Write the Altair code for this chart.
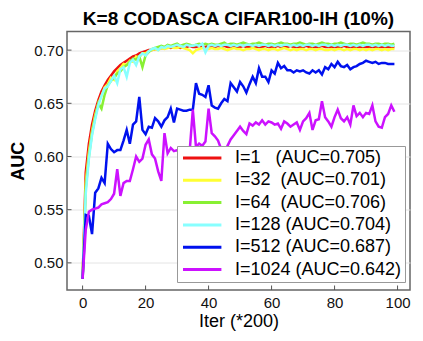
import altair as alt
import pandas as pd

iters = list(range(100))

labels = [
    "I=1\u00a0\u00a0\u00a0(AUC=0.705)",
    "I=32\u00a0\u00a0(AUC=0.701)",
    "I=64\u00a0\u00a0(AUC=0.706)",
    "I=128\u00a0(AUC=0.704)",
    "I=512\u00a0(AUC=0.687)",
    "I=1024\u00a0(AUC=0.642)",
]
colors = ["#ee1111", "#ffff33", "#88f033", "#88ffff", "#0011ee", "#cc11ff"]

auc_i1 = [0.485, 0.585, 0.612, 0.630, 0.643, 0.653, 0.661, 0.667, 0.672, 0.676,
          0.680, 0.683, 0.686, 0.688, 0.690, 0.692, 0.694, 0.695, 0.697, 0.698,
          0.699, 0.700, 0.700, 0.701, 0.701, 0.702, 0.702, 0.703, 0.702, 0.703,
          0.703, 0.702, 0.703, 0.703, 0.704, 0.703, 0.703, 0.704, 0.703, 0.703,
          0.704, 0.703, 0.703, 0.704, 0.703, 0.704, 0.703, 0.703, 0.704, 0.703,
          0.703, 0.704, 0.703, 0.703, 0.704, 0.703, 0.703, 0.703, 0.704, 0.703,
          0.703, 0.703, 0.704, 0.703, 0.703, 0.703, 0.704, 0.703, 0.703, 0.703,
          0.703, 0.704, 0.703, 0.703, 0.703, 0.703, 0.704, 0.703, 0.703, 0.703,
          0.703, 0.703, 0.703, 0.704, 0.703, 0.703, 0.703, 0.703, 0.703, 0.703,
          0.703, 0.703, 0.703, 0.703, 0.703, 0.703, 0.703, 0.703, 0.703, 0.703]

auc_i32 = [0.485, 0.575, 0.604, 0.624, 0.639, 0.650, 0.657, 0.665, 0.668, 0.674,
           0.672, 0.680, 0.683, 0.687, 0.686, 0.690, 0.689, 0.694, 0.693, 0.697,
           0.697, 0.699, 0.700, 0.701, 0.700, 0.702, 0.701, 0.702, 0.703, 0.702,
           0.702, 0.703, 0.702, 0.701, 0.700, 0.697, 0.700, 0.701, 0.702, 0.701,
           0.701, 0.702, 0.701, 0.701, 0.702, 0.701, 0.700, 0.701, 0.702, 0.701,
           0.701, 0.700, 0.701, 0.701, 0.702, 0.701, 0.700, 0.701, 0.701, 0.700,
           0.701, 0.701, 0.700, 0.701, 0.702, 0.701, 0.700, 0.701, 0.700, 0.701,
           0.701, 0.700, 0.701, 0.701, 0.700, 0.701, 0.701, 0.700, 0.700, 0.701,
           0.700, 0.701, 0.701, 0.700, 0.701, 0.700, 0.701, 0.701, 0.700, 0.701,
           0.700, 0.701, 0.700, 0.701, 0.701, 0.700, 0.701, 0.700, 0.701, 0.701]

auc_i64 = [0.485, 0.570, 0.600, 0.622, 0.637, 0.650, 0.645, 0.658, 0.667, 0.671,
           0.674, 0.678, 0.680, 0.684, 0.686, 0.689, 0.692, 0.691, 0.694, 0.684,
           0.695, 0.698, 0.701, 0.702, 0.703, 0.704, 0.703, 0.705, 0.704, 0.705,
           0.706, 0.704, 0.705, 0.706, 0.705, 0.704, 0.705, 0.706, 0.705, 0.706,
           0.705, 0.706, 0.705, 0.705, 0.706, 0.707, 0.705, 0.706, 0.706, 0.705,
           0.706, 0.707, 0.706, 0.705, 0.706, 0.706, 0.707, 0.706, 0.705, 0.706,
           0.706, 0.705, 0.706, 0.707, 0.706, 0.706, 0.705, 0.706, 0.706, 0.707,
           0.706, 0.705, 0.706, 0.706, 0.705, 0.706, 0.707, 0.706, 0.706, 0.705,
           0.706, 0.706, 0.707, 0.706, 0.705, 0.706, 0.706, 0.705, 0.706, 0.707,
           0.706, 0.706, 0.705, 0.706, 0.706, 0.705, 0.706, 0.706, 0.705, 0.706]

auc_i128 = [0.485, 0.565, 0.598, 0.620, 0.635, 0.648, 0.657, 0.664, 0.666, 0.671,
            0.676, 0.669, 0.682, 0.684, 0.675, 0.688, 0.691, 0.686, 0.694, 0.697,
            0.695, 0.699, 0.701, 0.702, 0.700, 0.703, 0.702, 0.704, 0.703, 0.704,
            0.705, 0.704, 0.703, 0.705, 0.704, 0.704, 0.705, 0.704, 0.706, 0.698,
            0.704, 0.705, 0.704, 0.705, 0.704, 0.705, 0.705, 0.704, 0.705, 0.704,
            0.705, 0.704, 0.705, 0.705, 0.704, 0.705, 0.704, 0.705, 0.705, 0.704,
            0.705, 0.704, 0.705, 0.704, 0.705, 0.705, 0.704, 0.705, 0.704, 0.705,
            0.704, 0.705, 0.705, 0.704, 0.705, 0.704, 0.705, 0.705, 0.704, 0.705,
            0.704, 0.705, 0.704, 0.705, 0.705, 0.704, 0.705, 0.704, 0.705, 0.704,
            0.705, 0.705, 0.704, 0.705, 0.704, 0.705, 0.704, 0.705, 0.704, 0.704]

auc_i512 = [0.485, 0.545, 0.544, 0.527, 0.566, 0.570, 0.580, 0.575, 0.612, 0.607,
            0.604, 0.606, 0.606, 0.615, 0.625, 0.612, 0.630, 0.633, 0.656, 0.625,
            0.621, 0.628, 0.627, 0.636, 0.633, 0.628, 0.634, 0.637, 0.645, 0.632,
            0.645, 0.644, 0.643, 0.643, 0.644, 0.644, 0.669, 0.659, 0.658, 0.656,
            0.667, 0.648, 0.646, 0.645, 0.650, 0.654, 0.652, 0.669, 0.665, 0.661,
            0.670, 0.666, 0.660, 0.668, 0.675, 0.669, 0.683, 0.675, 0.675, 0.670,
            0.681, 0.678, 0.688, 0.683, 0.685, 0.681, 0.681, 0.679, 0.681, 0.680,
            0.681, 0.679, 0.678, 0.681, 0.679, 0.681, 0.677, 0.684, 0.682, 0.687,
            0.684, 0.689, 0.685, 0.684, 0.686, 0.682, 0.684, 0.685, 0.687, 0.688,
            0.690, 0.689, 0.688, 0.689, 0.687, 0.688, 0.688, 0.687, 0.687, 0.687]

auc_i1024 = [0.485, 0.531, 0.548, 0.550, 0.551, 0.552, 0.555, 0.556, 0.557, 0.560,
             0.565, 0.588, 0.563, 0.575, 0.577, 0.577, 0.588, 0.600, 0.595, 0.598,
             0.611, 0.616, 0.602, 0.598, 0.586, 0.577, 0.622, 0.603, 0.608, 0.605,
             0.606, 0.603, 0.600, 0.598, 0.605, 0.644, 0.609, 0.612, 0.610, 0.614,
             0.645, 0.622, 0.619, 0.615, 0.607, 0.604, 0.610, 0.616, 0.620, 0.624,
             0.628, 0.624, 0.621, 0.631, 0.629, 0.632, 0.630, 0.634, 0.630, 0.633,
             0.632, 0.630, 0.631, 0.626, 0.633, 0.631, 0.628, 0.630, 0.632, 0.625,
             0.633, 0.636, 0.641, 0.625, 0.634, 0.635, 0.652, 0.637, 0.633, 0.628,
             0.637, 0.644, 0.636, 0.633, 0.637, 0.630, 0.648, 0.638, 0.641, 0.637,
             0.641, 0.640, 0.648, 0.633, 0.628, 0.627, 0.637, 0.640, 0.648, 0.642]

series = [auc_i1, auc_i32, auc_i64, auc_i128, auc_i512, auc_i1024]

x_ticks = [0, 20, 40, 60, 80, 100]
y_ticks = [0.50, 0.55, 0.60, 0.65, 0.70]

rows = []
for k, (name, vals) in enumerate(zip(labels, series)):
    for it, v in zip(iters, vals):
        rows.append({"k": k, "series": name, "iter": it, "auc": v})
df = pd.DataFrame(rows)

W, H = 343, 258.5
FONT = "Liberation Sans"

x_scale = alt.Scale(domain=[-4.95, 103.95], nice=False, zero=False)
y_scale = alt.Scale(domain=[0.4745, 0.7175], nice=False, zero=False)
color_scale = alt.Scale(domain=labels, range=colors)

x_axis = alt.Axis(values=x_ticks, title="Iter (*200)", grid=False, domain=False,
                  ticks=False, labelPadding=5, labelFontSize=15, labelFont=FONT,
                  labelColor="#111", titleFont=FONT, titleFontSize=18,
                  titleFontWeight="normal", titleColor="#000", titlePadding=2)
y_axis = alt.Axis(values=y_ticks, format=".2f", title="AUC", grid=True,
                  gridColor="#e4e4e4", gridWidth=1, domain=False, ticks=False,
                  labelPadding=4, labelFontSize=15, labelFont=FONT, labelColor="#111",
                  titleFont=FONT, titleFontSize=18, titleFontWeight="bold",
                  titleColor="#000", titlePadding=6)

legend = alt.Legend(orient="none", legendX=110, legendY=114.5, title=None,
                    symbolType="M-1,0H5.4", symbolSize=144, symbolStrokeWidth=3,
                    labelFont=FONT, labelFontSize=18, labelColor="#000",
                    labelOffset=37, rowPadding=4.3, padding=3,
                    strokeColor="#999999", fillColor="white", labelLimit=400)

layers = []
for k in range(len(labels)):
    layers.append(
        alt.Chart(df).transform_filter(alt.datum.k == k)
        .mark_line(strokeWidth=2.5, clip=True)
        .encode(
            x=alt.X("iter:Q", scale=x_scale, axis=x_axis),
            y=alt.Y("auc:Q", scale=y_scale, axis=y_axis),
            color=alt.Color("series:N", scale=color_scale, legend=legend),
        )
    )

xt = pd.DataFrame({"iter": x_ticks})
yt = pd.DataFrame({"auc": y_ticks})
xtick_layer = alt.Chart(xt).mark_rule(color="#555", strokeWidth=1).encode(
    x=alt.X("iter:Q", scale=x_scale, axis=x_axis),
    y=alt.value(H), y2=alt.value(H - 4.5),
)
ytick_layer = alt.Chart(yt).mark_rule(color="#555", strokeWidth=1).encode(
    y=alt.Y("auc:Q", scale=y_scale, axis=y_axis),
    x=alt.value(0), x2=alt.value(4.5),
)

chart = alt.layer(*layers, xtick_layer, ytick_layer).properties(
    width=W, height=H,
    title=alt.Title("K=8 CODASCA CIFAR100-IH (10%)", font=FONT, fontSize=19,
                    fontWeight="bold", color="#000", anchor="middle", offset=3),
    autosize=alt.AutoSizeParams(type="none"),
    padding={"left": 59, "top": 23.5, "right": 5, "bottom": 46},
).configure_view(stroke="#666666", strokeWidth=1.5)

chart.save("out.html", embed_options={"renderer": "svg", "actions": False})
